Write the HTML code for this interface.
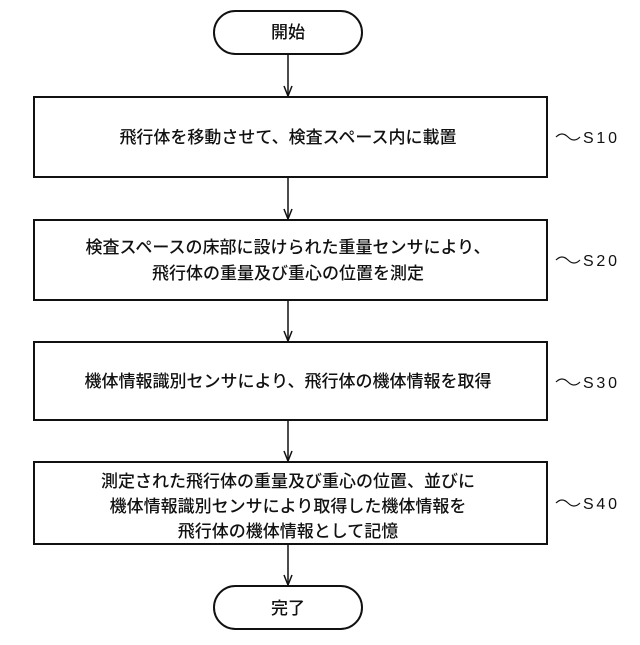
<!DOCTYPE html>
<html><head><meta charset="utf-8"><style>
body{margin:0;background:#fff}
svg text{font-family:"Liberation Sans","Noto Sans CJK JP",sans-serif;font-size:17px;fill:#111;font-weight:500}
</style></head><body>
<svg width="640" height="640" viewBox="0 0 640 640" xmlns="http://www.w3.org/2000/svg">
<g fill="none" stroke="#111" stroke-width="2">
<rect x="214" y="11" width="148" height="43" rx="21.5"/>
<rect x="34" y="97" width="513" height="80"/>
<rect x="34" y="220" width="513" height="80"/>
<rect x="34" y="342" width="513" height="78"/>
<rect x="34" y="462" width="513" height="82"/>
<rect x="214" y="586" width="148" height="43" rx="21.5"/>
</g>
<g stroke="#111" stroke-width="1.5" fill="none">
<line x1="288" y1="54" x2="288" y2="96"/>
<line x1="288" y1="177" x2="288" y2="219"/>
<line x1="288" y1="300" x2="288" y2="341"/>
<line x1="288" y1="420" x2="288" y2="461"/>
<line x1="288" y1="544" x2="288" y2="585"/>
<path d="M284,86 L288,96 L292,86"/>
<path d="M284,209 L288,219 L292,209"/>
<path d="M284,331 L288,341 L292,331"/>
<path d="M284,451 L288,461 L292,451"/>
<path d="M284,575 L288,585 L292,575"/>
</g>
<g fill="none" stroke="#111" stroke-width="1.2">
<path d="M556,137 q6,-6 12,0 t12,0"/>
<path d="M556,260 q6,-6 12,0 t12,0"/>
<path d="M556,382 q6,-6 12,0 t12,0"/>
<path d="M556,503 q6,-6 12,0 t12,0"/>
</g>
<g text-anchor="middle">
<text x="288" y="38">開始</text>
<text x="288" y="143">飛行体を移動させて、検査スペース内に載置</text>
<text x="288" y="253">検査スペースの床部に設けられた重量センサにより、</text>
<text x="288" y="279">飛行体の重量及び重心の位置を測定</text>
<text x="288" y="387">機体情報識別センサにより、飛行体の機体情報を取得</text>
<text x="288" y="487">測定された飛行体の重量及び重心の位置、並びに</text>
<text x="288" y="512">機体情報識別センサにより取得した機体情報を</text>
<text x="288" y="537">飛行体の機体情報として記憶</text>
<text x="288" y="614">完了</text>
</g>
<g>
<text x="583" y="143" style="font-size:16px" textLength="34">S10</text>
<text x="583" y="266" style="font-size:16px" textLength="34">S20</text>
<text x="583" y="388" style="font-size:16px" textLength="34">S30</text>
<text x="583" y="509" style="font-size:16px" textLength="34">S40</text>
</g>
</svg>
</body></html>
